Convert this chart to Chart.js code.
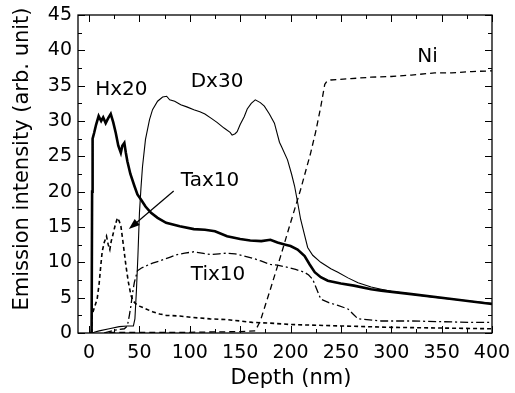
<!DOCTYPE html>
<html>
<head>
<meta charset="utf-8">
<script src="https://cdn.jsdelivr.net/npm/chart.js@4"></script>
<style>
  html, body { margin: 0; padding: 0; background: #fff; }
  #wrap { width: 515px; height: 393px; }
</style>
</head>
<body>
<div id="wrap"><canvas id="depthChart" width="515" height="393"></canvas></div>
<script>
// depth profile data (nm, arb. unit)
var hxDepth = [0, 2.5, 3, 3.5, 5, 7, 9.5, 12, 14, 16.5, 19, 21.5, 24, 26.5, 29, 31.5, 33, 35, 36.5, 38, 41, 45, 48, 51.5, 56, 61.5, 68, 76.5, 90, 104, 115, 125, 137, 150, 160, 171, 180, 187, 195, 200, 207, 214, 219, 224, 230, 237, 250, 263, 280, 290, 320, 360, 400];
var hxVal   = [0, 0, 20, 27.5, 28.3, 29.5, 30.7, 30.0, 30.5, 29.7, 30.4, 31.0, 29.8, 28.3, 26.5, 25.5, 26.5, 26.9, 25.5, 24.3, 22.5, 20.8, 19.6, 18.9, 17.9, 17.0, 16.3, 15.6, 15.1, 14.7, 14.6, 14.4, 13.7, 13.3, 13.1, 13.0, 13.2, 12.8, 12.5, 12.3, 11.8, 10.9, 9.7, 8.6, 7.9, 7.4, 7.0, 6.7, 6.2, 6.0, 5.5, 4.8, 4.1];

var dxDepth = [0, 5, 10, 20, 30, 38, 44, 45.5, 47, 48.5, 50, 51.5, 53, 56, 60, 63, 68, 73, 77, 80, 85, 91, 97, 104, 110, 115, 121, 127, 134, 140, 142, 145, 147, 150, 154, 157, 161, 165, 170, 174, 179, 184, 189, 191, 197, 201, 204, 207, 210, 214, 217, 222, 230, 240, 247, 257, 267, 280, 290, 300, 320, 340, 360, 380, 400];
var dxVal   = [0, 0.1, 0.3, 0.6, 0.9, 1.0, 1.0, 2.0, 6.0, 11.0, 17.0, 20.5, 23.5, 27.4, 30.2, 31.6, 32.8, 33.4, 33.5, 33.0, 32.8, 32.3, 32.0, 31.6, 31.3, 31.0, 30.4, 29.8, 29.0, 28.4, 28.0, 28.2, 28.5, 29.5, 30.6, 31.7, 32.5, 33.0, 32.6, 32.1, 31.0, 29.7, 27.0, 26.4, 24.5, 22.5, 20.8, 18.5, 16.1, 13.8, 12.1, 11.0, 10.0, 9.1, 8.6, 7.8, 7.1, 6.5, 6.2, 5.9, 5.5, 5.1, 4.8, 4.5, 4.2];

var taDepth = [2.5, 3, 5, 8, 10, 11.6, 13, 15, 17.3, 19, 20.6, 22, 23.3, 26, 28.2, 30, 31.6, 34, 36.6, 39, 41.6, 44, 46.6, 50, 56.6, 63, 70, 76.5, 90, 103, 120, 136, 150, 162, 180, 200, 250, 300, 350, 400];
var taVal   = [0, 2.5, 3.5, 4.8, 7.0, 9.5, 11.5, 12.8, 13.7, 12.5, 11.8, 13.0, 13.7, 15.3, 16.3, 15.8, 15.1, 12.5, 9.5, 7.2, 5.3, 4.5, 4.1, 3.8, 3.4, 3.0, 2.7, 2.5, 2.4, 2.2, 2.0, 1.9, 1.7, 1.5, 1.4, 1.2, 1.0, 0.8, 0.7, 0.6];

var tiDepth = [15, 20, 25, 30, 35, 38, 40, 41.6, 43, 45, 48, 52, 56.5, 63, 70, 80, 87.5, 95, 104, 112, 120.7, 129, 137, 145, 154, 162, 170.6, 180, 187, 197, 205, 213.8, 218, 222, 226, 230, 238, 247, 257, 262, 267, 290, 320, 350, 380, 400];
var tiVal   = [0, 0.2, 0.4, 0.5, 0.6, 1.0, 2.5, 3.9, 5.5, 7.2, 8.8, 9.2, 9.5, 9.9, 10.2, 10.7, 11.1, 11.3, 11.5, 11.3, 11.1, 11.2, 11.3, 11.2, 10.9, 10.6, 10.2, 9.7, 9.6, 9.3, 9.0, 8.6, 8.2, 7.6, 6.2, 4.8, 4.3, 3.9, 3.4, 2.7, 2.0, 1.7, 1.7, 1.6, 1.5, 1.5];

var niDepth = [20, 50, 100, 150, 165, 170, 180, 190, 200, 210, 220, 225, 230, 234, 236, 240, 260, 280, 300, 320, 343, 360, 380, 400];
var niVal   = [0.1, 0.1, 0.1, 0.2, 0.3, 1.7, 6.2, 10.8, 15.6, 20.3, 25.5, 28.5, 32.0, 35.2, 35.6, 35.8, 36.0, 36.2, 36.3, 36.5, 36.8, 36.8, 37.0, 37.1];

var xTicks = [0, 50, 100, 150, 200, 250, 300, 350, 400];
var yTicks = [0, 5, 10, 15, 20, 25, 30, 35, 40, 45];

// labels placed in data coordinates
var curveLabels = [
  { text: 'Hx20', x: 32, y: 34.4 },
  { text: 'Dx30', x: 127, y: 35.6 },
  { text: 'Tax10', x: 120, y: 21.6 },
  { text: 'Tix10', x: 128, y: 8.3 },
  { text: 'Ni', x: 336, y: 39.1 }
];
var arrowFrom = { x: 84, y: 20.1 };
var arrowTo = { x: 39.5, y: 14.7 };

function pts(xs, ys) {
  return xs.map(function (x, i) { return { x: x, y: ys[i] }; });
}

var FONT = '"DejaVu Sans", sans-serif';

var framePlugin = {
  id: 'frame',
  afterDraw: function (chart) {
    var ctx = chart.ctx;
    var a = chart.chartArea;
    var xs = chart.scales.x, ys = chart.scales.y;
    ctx.save();
    ctx.strokeStyle = '#000';
    ctx.lineWidth = 1.3;
    ctx.strokeRect(a.left, a.top, a.right - a.left, a.bottom - a.top);

    // inward ticks on all four sides
    ctx.lineWidth = 1;
    ctx.beginPath();
    for (var v = 0; v <= 400; v += 25) {
      var px = Math.round(xs.getPixelForValue(v)) + 0.5;
      var len = (v % 50 === 0) ? 7 : 4;
      ctx.moveTo(px, a.bottom); ctx.lineTo(px, a.bottom - len);
      ctx.moveTo(px, a.top); ctx.lineTo(px, a.top + len);
    }
    for (var w = 0; w <= 45; w += 2.5) {
      var py = Math.round(ys.getPixelForValue(w)) + 0.5;
      var l2 = (w % 5 === 0) ? 7 : 4;
      ctx.moveTo(a.left, py); ctx.lineTo(a.left + l2, py);
      ctx.moveTo(a.right, py); ctx.lineTo(a.right - l2, py);
    }
    ctx.stroke();

    // curve labels
    ctx.fillStyle = '#000';
    ctx.font = '20px ' + FONT;
    ctx.textAlign = 'center';
    ctx.textBaseline = 'middle';
    curveLabels.forEach(function (lb) {
      ctx.fillText(lb.text, xs.getPixelForValue(lb.x), ys.getPixelForValue(lb.y));
    });

    // arrow to the Tax10 curve
    var x0 = xs.getPixelForValue(arrowFrom.x), y0 = ys.getPixelForValue(arrowFrom.y);
    var x1 = xs.getPixelForValue(arrowTo.x), y1 = ys.getPixelForValue(arrowTo.y);
    var ang = Math.atan2(y1 - y0, x1 - x0);
    ctx.lineWidth = 1.2;
    ctx.beginPath();
    ctx.moveTo(x0, y0);
    ctx.lineTo(x1 - 6 * Math.cos(ang), y1 - 6 * Math.sin(ang));
    ctx.stroke();
    ctx.beginPath();
    ctx.moveTo(x1, y1);
    ctx.lineTo(x1 - 11 * Math.cos(ang) + 4 * Math.sin(ang), y1 - 11 * Math.sin(ang) - 4 * Math.cos(ang));
    ctx.lineTo(x1 - 11 * Math.cos(ang) - 4 * Math.sin(ang), y1 - 11 * Math.sin(ang) + 4 * Math.cos(ang));
    ctx.closePath();
    ctx.fill();

    // axis titles
    ctx.font = '21px ' + FONT;
    ctx.fillText('Depth (nm)', 291, 379);
    ctx.translate(23, 159);
    ctx.rotate(-Math.PI / 2);
    ctx.fillText('Emission intensity (arb. unit)', 0, 0);
    ctx.restore();
  }
};

var base = { pointRadius: 0, tension: 0, borderColor: '#000', fill: false };

var chart = new Chart(document.getElementById('depthChart').getContext('2d'), {
  type: 'line',
  data: {
    datasets: [
      Object.assign({ label: 'Hx20', data: pts(hxDepth, hxVal), borderWidth: 2.6 }, base),
      Object.assign({ label: 'Dx30', data: pts(dxDepth, dxVal), borderWidth: 1.1 }, base),
      Object.assign({ label: 'Tax10', data: pts(taDepth, taVal), borderWidth: 1.6, borderDash: [4, 3] }, base),
      Object.assign({ label: 'Tix10', data: pts(tiDepth, tiVal), borderWidth: 1.3, borderDash: [8, 3, 2, 3] }, base),
      Object.assign({ label: 'Ni', data: pts(niDepth, niVal), borderWidth: 1.3, borderDash: [6, 4] }, base)
    ]
  },
  options: {
    responsive: false,
    animation: false,
    layout: { padding: { top: 15, right: 23, left: 0, bottom: 0 } },
    plugins: { legend: { display: false }, tooltip: { enabled: false } },
    scales: {
      x: {
        type: 'linear',
        min: -11,
        max: 400,
        afterBuildTicks: function (s) { s.ticks = xTicks.map(function (v) { return { value: v }; }); },
        afterFit: function (s) { s.height = 60; s.paddingLeft = 0; s.paddingRight = 0; },
        grid: { display: false, drawTicks: false },
        border: { display: false },
        ticks: { color: '#000', padding: 9, maxRotation: 0, font: { family: FONT, size: 19 } }
      },
      y: {
        min: 0,
        max: 45,
        afterBuildTicks: function (s) { s.ticks = yTicks.map(function (v) { return { value: v }; }); },
        afterFit: function (s) { s.width = 78; s.paddingTop = 0; s.paddingBottom = 0; },
        grid: { display: false, drawTicks: false },
        border: { display: false },
        ticks: { color: '#000', padding: 6, font: { family: FONT, size: 19 } }
      }
    }
  },
  plugins: [framePlugin]
});
</script>
</body>
</html>
